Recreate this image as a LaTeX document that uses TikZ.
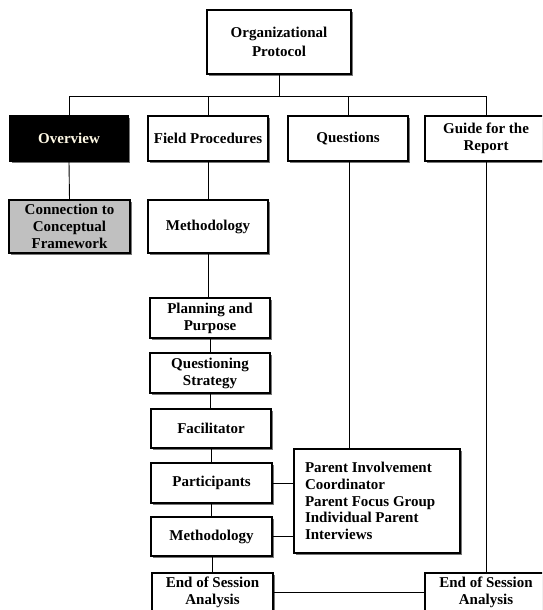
\documentclass[tikz,border=0pt]{standalone}
\usepackage{fontspec}
\setmainfont{Liberation Serif}
\usetikzlibrary{shadows}
\definecolor{shadowgray}{RGB}{120,120,120}
\definecolor{boxgray}{RGB}{192,192,192}
\definecolor{cream}{RGB}{255,250,230}
\tikzset{
  box/.style={draw=black, line width=1.2pt, fill=white, align=center, inner sep=1pt,
    font=\fontsize{15}{17}\selectfont\bfseries,
    drop shadow={shadow xshift=2.2pt, shadow yshift=-2.2pt, fill=shadowgray, opacity=1}},
  link/.style={draw=black, line width=0.9pt}
}
\begin{document}
\begin{tikzpicture}[x=1pt,y=-1pt]
\useasboundingbox (0,0) rectangle (542,610);
\clip (0,0) rectangle (542,610);
\coordinate (bus) at (0,96);
\node[box, minimum width=144pt, minimum height=64pt, font=\fontsize{15}{19}\selectfont\bfseries] (top) at (279,42) {Organizational\\Protocol};
\node[box, fill=black, text=cream, minimum width=118pt, minimum height=45pt] (over) at (69,138.5) {Overview};
\node[box, minimum width=120pt, minimum height=45pt] (field) at (208,138.5) {Field Procedures};
\node[box, minimum width=120pt, minimum height=45pt] (quest) at (348,138.5) {Questions};
\node[box, minimum width=122pt, minimum height=45pt] (guide) at (486,138.5) {Guide for the\\Report};
\node[box, fill=boxgray, minimum width=121pt, minimum height=53pt] (conn) at (69.5,226.5) {Connection to\\Conceptual\\Framework};
\node[box, minimum width=120pt, minimum height=53pt] (meth1) at (208,226.5) {Methodology};
\node[box, minimum width=120pt, minimum height=40pt] (plan) at (210,318) {Planning and\\Purpose};
\node[box, minimum width=120pt, minimum height=40pt] (qstrat) at (210,373) {Questioning\\Strategy};
\node[box, minimum width=120pt, minimum height=39pt] (facil) at (211,428.5) {Facilitator};
\node[box, minimum width=121pt, minimum height=40pt] (part) at (211.5,483) {Participants};
\node[box, minimum width=121pt, minimum height=39pt] (meth2) at (211.5,536.5) {Methodology};
\node[box, minimum width=121pt, minimum height=38pt] (endl) at (212.5,592) {End of Session\\Analysis};
\node[box, minimum width=122pt, minimum height=38pt] (endr) at (486,592) {End of Session\\Analysis};
\node[box, minimum width=166pt, minimum height=104pt, align=left, font=\fontsize{15}{16.7}\selectfont\bfseries] (parent) at (377,501)
  {\begin{minipage}{144pt}\raggedright Parent Involvement\\Coordinator\\Parent Focus Group\\Individual Parent\\Interviews\end{minipage}};
% bus
\draw[link] (top.south) -- (top.south |- bus);
\draw[link] (over.north |- bus) -- (guide.north |- bus);
\foreach \n in {over,field,quest,guide} \draw[link] (\n.north |- bus) -- (\n.north);
% columns
\draw[link] (over.south) -- (conn.north);
\draw[link] (field.south) -- (field.south |- meth1.north);
\draw[link] (meth1.south) -- (meth1.south |- plan.north);
\draw[link] (plan.south) -- (plan.south |- qstrat.north);
\draw[link] (qstrat.south) -- (qstrat.south |- facil.north);
\draw[link] (facil.south) -- (facil.south |- part.north);
\draw[link] (part.south) -- (part.south |- meth2.north);
\draw[link] ([xshift=0.5pt]meth2.south) -- ([xshift=0.5pt]meth2.south |- endl.north);
\draw[link] ([xshift=1.5pt]quest.south) -- ([xshift=1.5pt]quest.south |- parent.north);
\draw[link] (guide.south) -- (endr.north);
\draw[link] (part.east) -- (part.east -| parent.west);
\draw[link] (meth2.east) -- (meth2.east -| parent.west);
\draw[link] (endl.east) -- (endr.west);
\end{tikzpicture}
\end{document}
